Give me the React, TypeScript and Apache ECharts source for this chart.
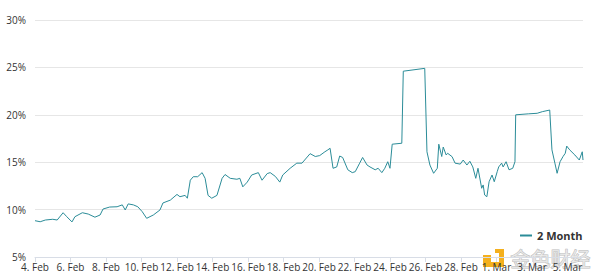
import React, { useEffect, useRef } from "react";
import * as echarts from "echarts";

// Hours since 4 Feb 2024 00:00 (UTC) and the 2-month rate (%) at that time
const seriesName = "2 Month";
const startDay = { year: 2024, month: 1, day: 4 };
const hoursSinceStart = [
  0, 7, 14, 24, 30, 38, 43, 50, 54, 64, 72, 81, 88, 92, 101, 111, 118, 122, 126, 133,
  139, 145, 151, 160, 169, 173, 183, 192, 196, 203, 206, 210, 214, 220, 226, 230, 234, 239, 246, 253,
  257, 264, 273, 277, 281, 287, 293, 302, 307, 314, 318, 325, 331, 335, 345, 354, 361, 372, 379, 385,
  392, 396, 399, 403, 408, 412, 416, 423, 429, 433, 439, 443, 449, 453, 460, 464, 469, 473, 477, 480,
  483, 496, 498, 527, 530, 534, 539, 544, 546, 550, 552, 556, 558, 564, 568, 575, 579, 584, 588, 592,
  596, 599, 604, 606, 608, 611, 614, 618, 621, 625, 627, 631, 633, 637, 641, 646, 649, 650, 667, 679,
  686, 696, 699, 703, 706, 710, 714, 717, 719, 723, 730, 736, 740, 741,
];
const rates = [
  8.83, 8.72, 8.9, 8.98, 8.9, 9.67, 9.25, 8.7, 9.25, 9.67, 9.53, 9.2, 9.43, 10.06, 10.27, 10.3, 10.5, 9.96, 10.6, 10.5,
  10.3, 9.78, 9.08, 9.43, 9.96, 10.7, 11.0, 11.6, 11.36, 11.5, 11.2, 13.1, 13.47, 13.47, 13.9, 13.3, 11.5, 11.2, 11.5, 13.3,
  13.7, 13.3, 13.2, 13.3, 12.4, 12.9, 13.65, 13.9, 13.1, 13.8, 13.9, 13.5, 12.9, 13.65, 14.36, 14.9, 14.9, 15.9, 15.6, 15.7,
  16.1, 16.3, 16.47, 14.36, 14.5, 15.65, 15.5, 14.2, 13.9, 14.0, 14.9, 15.5, 14.7, 14.5, 14.2, 14.36, 13.9, 14.36, 15.05, 14.36,
  16.9, 17.0, 24.6, 24.9, 16.1, 14.7, 13.83, 14.36, 16.9, 15.6, 16.6, 15.76, 15.94, 15.58, 14.9, 14.8, 15.23, 14.7, 15.1, 14.5,
  13.3, 14.36, 12.25, 12.6, 11.54, 11.36, 12.94, 13.65, 12.94, 14.0, 14.5, 14.9, 14.5, 15.05, 14.2, 14.36, 15.05, 20.0, 20.1, 20.16,
  20.33, 20.5, 16.3, 14.9, 13.83, 15.05, 15.6, 15.94, 16.7, 16.3, 15.76, 15.23, 16.1, 15.23,
];
const yTicks = [5, 10, 15, 20, 25, 30];
const monthNames = ["Jan", "Feb", "Mar", "Apr"];

const LINE_COLOR = "#2b8c98";
const FONT = "'Open Sans', 'DejaVu Sans', sans-serif";

function hourLabel(h: number): string {
  if (h % 48 !== 0) return "";
  const d = new Date(Date.UTC(startDay.year, startDay.month, startDay.day) + h * 3600 * 1000);
  return d.getUTCDate() + ". " + monthNames[d.getUTCMonth()];
}

export default function App() {
  const ref = useRef<HTMLDivElement>(null);
  useEffect(() => {
    document.body.style.margin = "0";
    if (!ref.current) return;
    const chart = echarts.init(ref.current, null, { renderer: "svg" });
    const data = hoursSinceStart.map((h, i) => [h, rates[i]]);
    chart.setOption({
      animation: false,
      textStyle: { fontFamily: FONT },
      grid: { left: 35, right: 17, top: 20, bottom: 21 },
      legend: {
        show: true,
        left: 515,
        top: 225,
        icon: "rect",
        itemWidth: 12,
        itemHeight: 2,
        itemGap: 4,
        textStyle: { fontSize: 11, fontWeight: "bold", color: "#333", fontFamily: FONT },
        data: [seriesName],
      },
      xAxis: {
        type: "value",
        min: 0,
        max: hoursSinceStart[hoursSinceStart.length - 1],
        interval: 48,
        splitLine: { show: false },
        axisLine: { show: true, lineStyle: { color: "#d8dde6" } },
        axisTick: { show: true, length: 5, lineStyle: { color: "#d8dde6" } },
        axisLabel: {
          fontSize: 10,
          color: "#333",
          margin: 5,
          showMaxLabel: false,
          formatter: (v: number) => hourLabel(v),
        },
      },
      yAxis: {
        type: "value",
        min: yTicks[0],
        max: yTicks[yTicks.length - 1],
        interval: 5,
        axisLine: { show: false },
        axisTick: { show: false },
        splitLine: { lineStyle: { color: "#e6e6e6", width: 1 } },
        axisLabel: { fontSize: 10, color: "#333", margin: 9, formatter: (v: number) => v + "%" },
      },
      series: [
        {
          name: seriesName,
          type: "line",
          data,
          showSymbol: false,
          symbol: "none",
          lineStyle: { color: LINE_COLOR, width: 1 },
          itemStyle: { color: LINE_COLOR },
        },
      ],
      graphic: [
        {
          type: "group",
          left: 483,
          top: 249,
          silent: true,
          children: [
            { type: "rect", shape: { x: 12, y: 0, width: 8, height: 4 }, style: { fill: "#f4b01e" } },
            { type: "rect", shape: { x: 16, y: 0, width: 5, height: 17 }, style: { fill: "#f4b01e" } },
            { type: "rect", shape: { x: 0, y: 6, width: 8, height: 7 }, style: { fill: "#f4b01e" } },
            { type: "rect", shape: { x: 0, y: 13, width: 21, height: 5 }, style: { fill: "#f4b01e" } },
          ],
        },
        {
          type: "text",
          left: 510,
          top: 248,
          silent: true,
          style: {
            text: "金色财经",
            fontSize: 20,
            fontFamily: "'Noto Sans CJK SC', sans-serif",
            fill: "rgba(235,235,235,0.85)",
            stroke: "rgba(170,170,170,0.8)",
            lineWidth: 1,
          },
        },
      ],
    });
    return () => chart.dispose();
  }, []);
  return <div ref={ref} style={{ width: 600, height: 278 }} />;
}
